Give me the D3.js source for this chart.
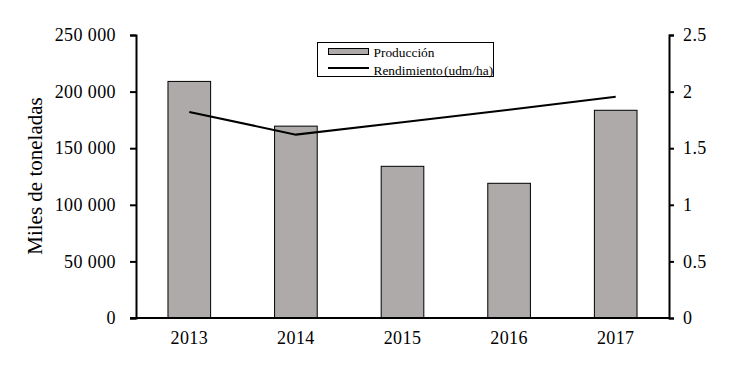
<!DOCTYPE html>
<html><head><meta charset="utf-8">
<script src="https://cdn.jsdelivr.net/npm/d3@7"></script>
<style>body{margin:0;background:#fff}svg{display:block}text{font-family:"Liberation Serif","Times New Roman",serif;fill:#000}</style>
</head><body><svg id="c" width="729" height="366"></svg>
<script>
const years = ["2013","2014","2015","2016","2017"];
const produccion = [209000, 169500, 134000, 119000, 183500];
const rendimiento = [1.82, 1.62, 1.73, 1.84, 1.955];
const leftTicks = [0, 50000, 100000, 150000, 200000, 250000];
const rightTicks = [0, 0.5, 1, 1.5, 2, 2.5];

const svg = d3.select("#c");
const m = {l:136, r:669, t:35, b:318};
const x = d3.scaleBand().domain(years).range([m.l, m.r]).paddingInner(0.6).paddingOuter(0.3);
const yL = d3.scaleLinear().domain([0,250000]).range([m.b, m.t]);
const yR = d3.scaleLinear().domain([0,2.5]).range([m.b, m.t]);
const fmt = d => d3.format(",")(d).replace(/,/g, " ");

svg.selectAll("rect.bar").data(produccion).enter().append("rect")
  .attr("x",(d,i)=>x(years[i])).attr("width",x.bandwidth())
  .attr("y",d=>yL(d)).attr("height",d=>yL(0)-yL(d))
  .attr("fill","#aeaaaa").attr("stroke","#000").attr("stroke-width",1);

const line = d3.line().x((d,i)=>x(years[i])+x.bandwidth()/2).y(d=>yR(d));
svg.append("path").datum(rendimiento).attr("d",line).attr("fill","none").attr("stroke","#000").attr("stroke-width",2);

const axL = svg.append("g").attr("transform",`translate(${m.l},0)`)
  .call(d3.axisLeft(yL).tickValues(leftTicks).tickFormat(fmt).tickSize(6).tickPadding(14));
const axR = svg.append("g").attr("transform",`translate(${m.r},0)`)
  .call(d3.axisRight(yR).tickValues(rightTicks).tickFormat(d=>String(d)).tickSize(5).tickPadding(9));
const axB = svg.append("g").attr("transform",`translate(0,${m.b})`)
  .call(d3.axisBottom(x).tickSize(0).tickPadding(13.5));
[axL,axR,axB].forEach(g=>{
  g.select(".domain").attr("stroke","#000").attr("stroke-width",2);
  g.selectAll(".tick line").attr("stroke","#000").attr("stroke-width",2);
  g.selectAll(".tick text").style("font-size","18px").style("letter-spacing","0.4px")
    .style("font-family","'Liberation Serif',serif").attr("fill","#000");
});
axB.select(".domain").attr("d",`M${m.l-6},0H${m.r}`);

svg.append("text").attr("transform",`translate(42,176) rotate(-90)`).attr("text-anchor","middle")
  .style("font-size","21px").text("Miles de toneladas");

const lg = svg.append("g");
lg.append("rect").attr("x",317.5).attr("y",42.5).attr("width",176).attr("height",34).attr("fill","#fff").attr("stroke","#000").attr("stroke-width",1);
lg.append("rect").attr("x",328.5).attr("y",48.5).attr("width",40).attr("height",6).attr("fill","#aeaaaa").attr("stroke","#000").attr("stroke-width",1);
lg.append("line").attr("x1",328).attr("x2",369).attr("y1",68).attr("y2",68).attr("stroke","#000").attr("stroke-width",2);
lg.append("text").attr("x",373.5).attr("y",56.5).style("font-size","13.4px").text("Producción");
lg.append("text").attr("x",373.5).attr("y",74.5).style("font-size","13.4px").style("word-spacing","-2px").text("Rendimiento (udm/ha)");
</script></body></html>
